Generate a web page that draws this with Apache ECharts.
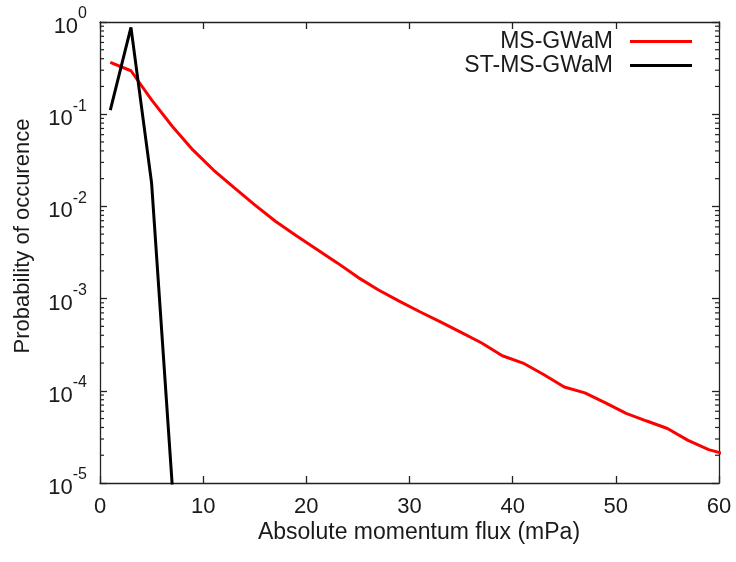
<!DOCTYPE html>
<html>
<head>
<meta charset="utf-8">
<script src="https://cdn.jsdelivr.net/npm/echarts@6/dist/echarts.min.js"></script>
<style>
html,body{margin:0;padding:0;background:#fff;}
#chart{width:736px;height:562px;}
</style>
</head>
<body>
<div id="chart"></div>
<script>
// ---- data ----
const msX = [1,3,5,7,9,11,13,15,17,19,21,23,25,27,29,31,33,35,37,39,41,43,45,47,49,51,53,55,57,59,61];
const msGwam = [0.365,0.296,0.143,0.074,0.041,0.0248,0.0160,0.0104,0.0069,0.00484,0.00344,0.00244,0.0017,0.00124,
  9.4e-4,7.2e-4,5.6e-4,4.3e-4,3.3e-4,2.4e-4,2.0e-4,1.5e-4,1.1e-4,9.5e-5,7.4e-5,5.7e-5,4.7e-5,3.9e-5,2.9e-5,2.3e-5,2.0e-5];
const stX = [1,3,5,7];
const stMsGwam = [0.111,0.875,0.018,9.5e-6];
const seriesNames = ['MS-GWaM','ST-MS-GWaM'];
const xMin = 0, xMax = 60, xStep = 10;
const yMin = 1e-5, yMax = 1;
const xTitle = 'Absolute momentum flux (mPa)';
const yTitle = 'Probability of occurence';

// minor tick values of the log axis (2..9 per decade)
const minorTicks = [];
for (let e = Math.round(Math.log10(yMin)); e < Math.round(Math.log10(yMax)); e++) {
  for (let k = 2; k <= 9; k++) minorTicks.push([xMin, k * Math.pow(10, e)]);
}

const FONT = '"Liberation Sans", Arial, Helvetica, sans-serif';
const AX = '#222';

const chart = echarts.init(document.getElementById('chart'), null, {renderer: 'canvas'});
const xAxisBase = {
  type: 'value', min: xMin, max: xMax, interval: xStep,
  axisLine: {show: true, onZero: false, lineStyle: {color: AX, width: 1.3}},
  axisTick: {show: true, inside: true, length: 7, lineStyle: {color: AX, width: 1.3}},
  splitLine: {show: false}
};
const yAxisBase = {
  type: 'log', logBase: 10, min: yMin, max: yMax, interval: 1,
  axisLine: {show: true, onZero: false, lineStyle: {color: AX, width: 1.3}},
  axisTick: {show: true, inside: true, length: 7, lineStyle: {color: AX, width: 1.3}},
  splitLine: {show: false}, minorTick: {show: false}
};

chart.setOption({
  animation: false,
  backgroundColor: '#fff',
  grid: {left: 100, right: 17, top: 22, bottom: 79, containLabel: false, outerBoundsMode: 'none'},
  xAxis: [
    Object.assign({}, xAxisBase, {
      position: 'bottom',
      axisLabel: {show: true, margin: 13, fontSize: 22, color: '#1a1a1a', fontFamily: FONT}
    }),
    Object.assign({}, xAxisBase, {position: 'top', axisLabel: {show: false}})
  ],
  yAxis: [
    Object.assign({}, yAxisBase, {
      position: 'left',
      axisLabel: {
        show: true, margin: 13, color: '#1a1a1a', fontFamily: FONT,
        formatter: function (v) {
          const e = Math.round(Math.log10(v));
          return '{b|10}{s|' + (e < 0 ? '-' + (-e) : e) + '}';
        },
        rich: {
          b: {fontSize: 22, lineHeight: 32, verticalAlign: 'bottom', fontFamily: FONT, color: '#1a1a1a'},
          s: {fontSize: 16, lineHeight: 16, verticalAlign: 'top', fontFamily: FONT, color: '#1a1a1a'}
        }
      }
    }),
    Object.assign({}, yAxisBase, {position: 'right', axisLabel: {show: false}})
  ],
  legend: [
    {
      data: [seriesNames[0]], right: 44, top: 30, orient: 'vertical', align: 'right',
      itemWidth: 62, itemHeight: 3, icon: 'rect', padding: 0,
      textStyle: {fontSize: 23, fontFamily: FONT, color: '#1a1a1a', padding: [0, 12, 0, 0]}
    },
    {
      data: [seriesNames[1]], right: 44, top: 54, orient: 'vertical', align: 'right',
      itemWidth: 62, itemHeight: 3, icon: 'rect', padding: 0,
      textStyle: {fontSize: 23, fontFamily: FONT, color: '#1a1a1a', padding: [0, 12, 0, 0]}
    }
  ],
  graphic: [
    {type: 'text', x: 419, y: 533, silent: true,
     style: {text: xTitle, font: '23px ' + FONT, fill: '#1a1a1a', textAlign: 'center', textVerticalAlign: 'middle'}},
    {type: 'text', x: 23, y: 236, rotation: Math.PI / 2, silent: true,
     style: {text: yTitle, font: '22px ' + FONT, fill: '#1a1a1a', textAlign: 'center', textVerticalAlign: 'middle'}}
  ],
  series: [
    {
      type: 'custom', name: 'minorTicks', silent: true, xAxisIndex: 0, yAxisIndex: 0, z: 1, clip: false,
      data: minorTicks,
      renderItem: function (params, api) {
        const l = api.coord([xMin, api.value(1)]);
        const r = api.coord([xMax, api.value(1)]);
        const st = {stroke: AX, lineWidth: 1.2};
        return {type: 'group', children: [
          {type: 'line', shape: {x1: l[0], y1: l[1], x2: l[0] + 4, y2: l[1]}, style: st},
          {type: 'line', shape: {x1: r[0], y1: r[1], x2: r[0] - 4, y2: r[1]}, style: st}
        ]};
      }
    },
    {
      name: seriesNames[0], type: 'line', xAxisIndex: 0, yAxisIndex: 0,
      data: msX.map((x, i) => [x, msGwam[i]]),
      showSymbol: false, symbol: 'none', smooth: false, clip: true,
      color: '#ff0000', lineStyle: {color: '#ff0000', width: 3}, z: 3
    },
    {
      name: seriesNames[1], type: 'line', xAxisIndex: 0, yAxisIndex: 0,
      data: stX.map((x, i) => [x, stMsGwam[i]]),
      showSymbol: false, symbol: 'none', smooth: false, clip: true,
      color: '#000000', lineStyle: {color: '#000000', width: 3}, z: 4
    }
  ]
});
</script>
</body>
</html>
